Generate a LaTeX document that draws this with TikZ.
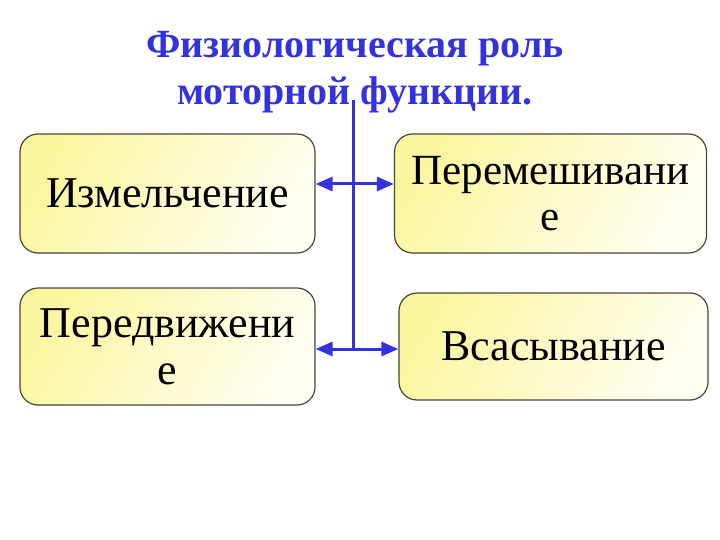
\documentclass[tikz,border=0pt]{standalone}
\usepackage{fontspec}
\setmainfont{Liberation Serif}
\usetikzlibrary{arrows.meta}
\definecolor{ttlblue}{RGB}{51,51,221}
\definecolor{boxyel}{RGB}{250,246,160}
\definecolor{boxwht}{RGB}{255,255,242}
\definecolor{boxedge}{RGB}{70,70,60}
\tikzset{
  ybox/.style={draw=boxedge, line width=1.2pt, rounded corners=18pt, rectangle,
    left color=boxyel, right color=boxwht, shading angle=60,
    inner sep=0pt, align=center, font=\fontsize{44}{47}\selectfont},
  link/.style={draw=ttlblue, line width=3pt},
  dblarrow/.style={link, {Triangle[length=17pt,width=14pt]}-{Triangle[length=17pt,width=14pt]}}
}
\begin{document}
\begin{tikzpicture}[x=1pt,y=-1pt]
\useasboundingbox (0,0) rectangle (720,540);
\node[text=ttlblue, font=\fontsize{40}{47}\bfseries, align=center] (title) at (355,72)
  {Физиологическая роль\\моторной функции.};
\coordinate (vt) at (353,100);
\coordinate (vb) at (353,349);
\draw[link] (vt) -- (vb);
\node[ybox, minimum width=295pt, minimum height=119pt, text width=295pt] (b1) at (167.5,193.5) {Измельчение};
\node[ybox, minimum width=312pt, minimum height=119pt, text width=312pt, font=\fontsize{43}{46}\selectfont] (b2) at (550.5,193.5) {Перемешивани\\е};
\node[ybox, minimum width=295pt, minimum height=117pt, text width=295pt] (b3) at (167.5,346.5) {Передвижени\\е};
\node[ybox, minimum width=309pt, minimum height=107pt, text width=309pt] (b4) at (553.5,346.5) {Всасывание};
\draw[dblarrow] ([yshift=9.5pt]b1.east) -- ([yshift=9.5pt]b2.west);
\draw[dblarrow] ([yshift=-2.5pt]b3.east) -- ([yshift=-2.5pt]b4.west);
\end{tikzpicture}
\end{document}
